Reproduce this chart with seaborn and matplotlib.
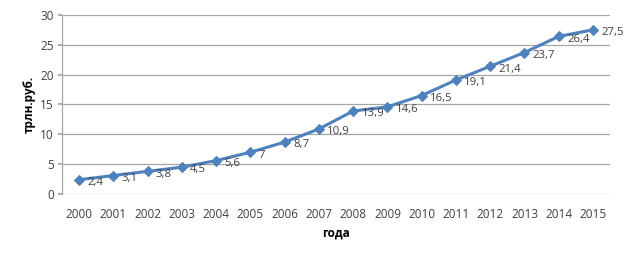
import matplotlib
import pandas as pd
import seaborn as sns

matplotlib.use("Agg")
import matplotlib.pyplot as plt

years = [str(y) for y in range(2000, 2016)]
values = [2.4, 3.1, 3.8, 4.5, 5.6, 7.0, 8.7, 10.9, 13.9, 14.6, 16.5, 19.1, 21.4, 23.7, 26.4, 27.5]
value_labels = ["2,4", "3,1", "3,8", "4,5", "5,6", "7", "8,7", "10,9", "13,9", "14,6",
                "16,5", "19,1", "21,4", "23,7", "26,4", "27,5"]
y_ticks = [0, 5, 10, 15, 20, 25, 30]

LINE_COLOR = "#4F81BD"
TEXT_COLOR = "#404040"
GRID_COLOR = "#A6A6A6"


def main() -> None:
    sns.set_theme(style="white")
    plt.rcParams["font.family"] = ["Open Sans", "DejaVu Sans"]

    df = pd.DataFrame({"year": years, "value": values})

    fig = plt.figure(figsize=(6.25, 2.57), dpi=100)
    ax = fig.add_axes([0.0992, 0.245, 0.877, 0.697])

    x = list(range(len(years)))
    sns.lineplot(
        x=x,
        y=df["value"],
        ax=ax,
        color=LINE_COLOR,
        linewidth=2.2,
        marker="D",
        markersize=5.5,
        markeredgecolor=LINE_COLOR,
    )

    for xi, v, lab in zip(x, values, value_labels):
        ax.annotate(
            lab,
            (xi, v),
            xytext=(6, -2),
            textcoords="offset points",
            ha="left",
            va="center",
            fontsize=8.2,
            color=TEXT_COLOR,
            annotation_clip=False,
        )

    ax.set_xlim(-0.5, len(years) - 0.5)
    ax.set_ylim(0, 30)
    ax.set_yticks(y_ticks)
    ax.set_xticks(x)
    ax.set_xticklabels(years)
    ax.yaxis.grid(True, color=GRID_COLOR, linewidth=0.9)
    ax.xaxis.grid(False)
    ax.set_axisbelow(True)

    for side in ["top", "right", "bottom"]:
        ax.spines[side].set_visible(False)
    ax.spines["left"].set_color(GRID_COLOR)
    ax.spines["left"].set_linewidth(0.9)

    ax.tick_params(axis="y", left=True, length=3, color=GRID_COLOR, labelsize=8.5,
                   labelcolor=TEXT_COLOR, pad=3)
    ax.tick_params(axis="x", bottom=False, labelsize=8.5, labelcolor=TEXT_COLOR, pad=4)

    ax.set_xlabel("года", fontsize=8.5, fontweight="bold", color="black", labelpad=4)
    ax.set_ylabel("трлн.руб.", fontsize=8.5, fontweight="bold", color="black", labelpad=3)

    fig.savefig("out.png", dpi=100)
    plt.close(fig)


if __name__ == "__main__":
    main()
